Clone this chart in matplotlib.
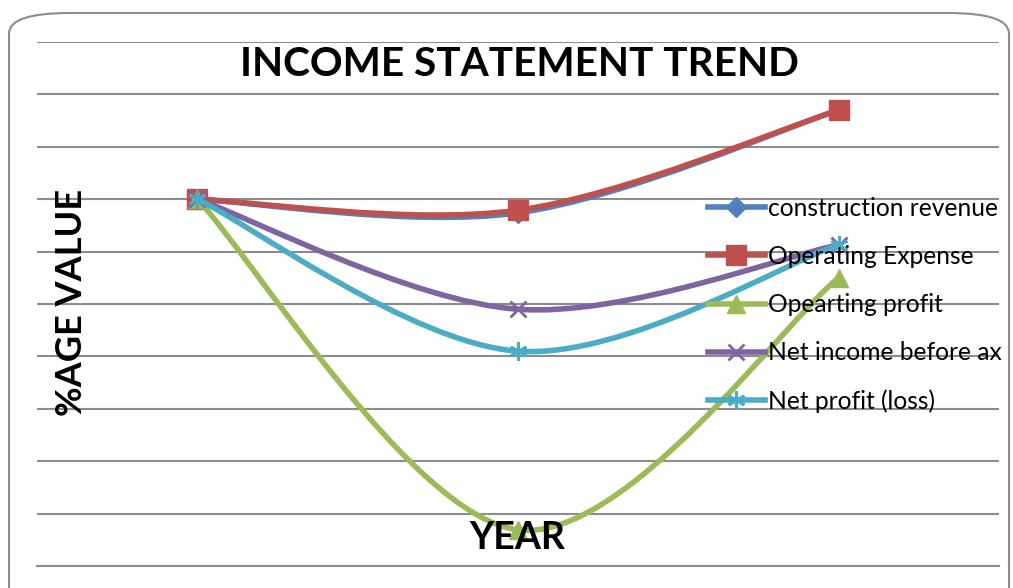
import matplotlib
matplotlib.use("Agg")
import matplotlib.pyplot as plt
from matplotlib.path import Path
from matplotlib.patches import PathPatch, FancyBboxPatch
from matplotlib.lines import Line2D

years = [0, 1, 2]
series_names = ["construction revenue", "Operating Expense", "Opearting profit",
                "Net income before ax", "Net profit (loss)"]
construction_revenue = [7.0, 6.74, 8.70]
operating_expense = [7.0, 6.79, 8.70]
operating_profit = [7.0, 0.69, 5.5]
net_income_before_tax = [7.0, 4.90, 6.13]
net_profit = [7.0, 4.10, 6.13]

series = [construction_revenue, operating_expense, operating_profit,
          net_income_before_tax, net_profit]
colors = ["#4F81BD", "#C0504D", "#9BBB59", "#8064A2", "#4BACC6"]
markers = ["D", "s", "^", "x", (6, 2, 0)]
msizes = [10, 14, 13, 11, 13]

W, H = 1013, 588
fig = plt.figure(figsize=(W / 100, H / 100), dpi=100)
ax = fig.add_axes([37 / W, 1 - 566 / H, (999 - 37) / W, (566 - 42) / H])


def smooth_path(xs, ys):
    pts = list(zip(xs, ys))
    n = len(pts)
    verts = [pts[0]]
    codes = [Path.MOVETO]
    for i in range(n - 1):
        p0 = pts[i - 1] if i > 0 else pts[i]
        p1 = pts[i]
        p2 = pts[i + 1]
        p3 = pts[i + 2] if i + 2 < n else pts[i + 1]
        c1 = (p1[0] + (p2[0] - p0[0]) / 6, p1[1] + (p2[1] - p0[1]) / 6)
        c2 = (p2[0] - (p3[0] - p1[0]) / 6, p2[1] - (p3[1] - p1[1]) / 6)
        verts += [c1, c2, p2]
        codes += [Path.CURVE4] * 3
    return Path(verts, codes)


LW = 4.0
for k, (vals, c, m, ms) in enumerate(zip(series, colors, markers, msizes)):
    patch = PathPatch(smooth_path(years, vals), facecolor="none", edgecolor=c,
                      lw=LW, capstyle="round", joinstyle="round", zorder=3 + k)
    ax.add_patch(patch)
    mew = 2.0 if m == "x" or isinstance(m, tuple) else 1.0
    ax.plot(years, vals, linestyle="none", marker=m, markersize=ms, color=c,
            markeredgecolor=c, markeredgewidth=mew, zorder=3 + k)

ax.set_xlim(-0.5, 2.5)
ax.set_ylim(0, 10)
ax.set_yticks(range(0, 11))
ax.set_xticks([])
ax.tick_params(left=False, labelleft=False, bottom=False, labelbottom=False)
ax.grid(axis="y", color="#8C8C8C", lw=1.5)
ax.set_axisbelow(True)
for s in ["left", "right", "top"]:
    ax.spines[s].set_visible(False)
ax.spines["bottom"].set_color("#8C8C8C")
ax.spines["bottom"].set_linewidth(1.5)
ax.patch.set_alpha(0)

fig.text(519 / W, 1 - 65 / H, "INCOME STATEMENT TREND", ha="center", va="center",
         fontsize=29.2, fontweight="bold", family="Lato")
fig.text(71 / W, 1 - 302 / H, "%AGE VALUE", ha="center", va="center", rotation=90,
         fontsize=26, fontweight="bold", family="Lato")
fig.text(517 / W, 1 - 538 / H, "YEAR", ha="center", va="center",
         fontsize=27, fontweight="bold", family="Lato", zorder=20)

handles = [Line2D([0], [0], color=c, lw=LW, marker=m, markersize=ms,
                  markeredgecolor=c,
                  markeredgewidth=(2.0 if m == "x" or isinstance(m, tuple) else 1.0))
           for c, m, ms in zip(colors, markers, msizes)]
leg = fig.legend(handles, series_names, loc="upper left",
                 bbox_to_anchor=(708 / W, 1 - 197 / H), frameon=False,
                 prop={"family": "Lato", "size": 17.7}, handlelength=2.3,
                 handletextpad=0.15, labelspacing=1.02, borderaxespad=0,
                 borderpad=0)
leg.set_zorder(30)

border = FancyBboxPatch((9 / W, -0.05), (1009 - 9) / W, (588 - 13) / H + 0.05,
                        boxstyle="round,pad=0,rounding_size=0.06",
                        transform=fig.transFigure, facecolor="none",
                        edgecolor="#8C8C8C", lw=1.5, mutation_aspect=H / W)
fig.patches.append(border)

fig.savefig("out.png", dpi=100)
